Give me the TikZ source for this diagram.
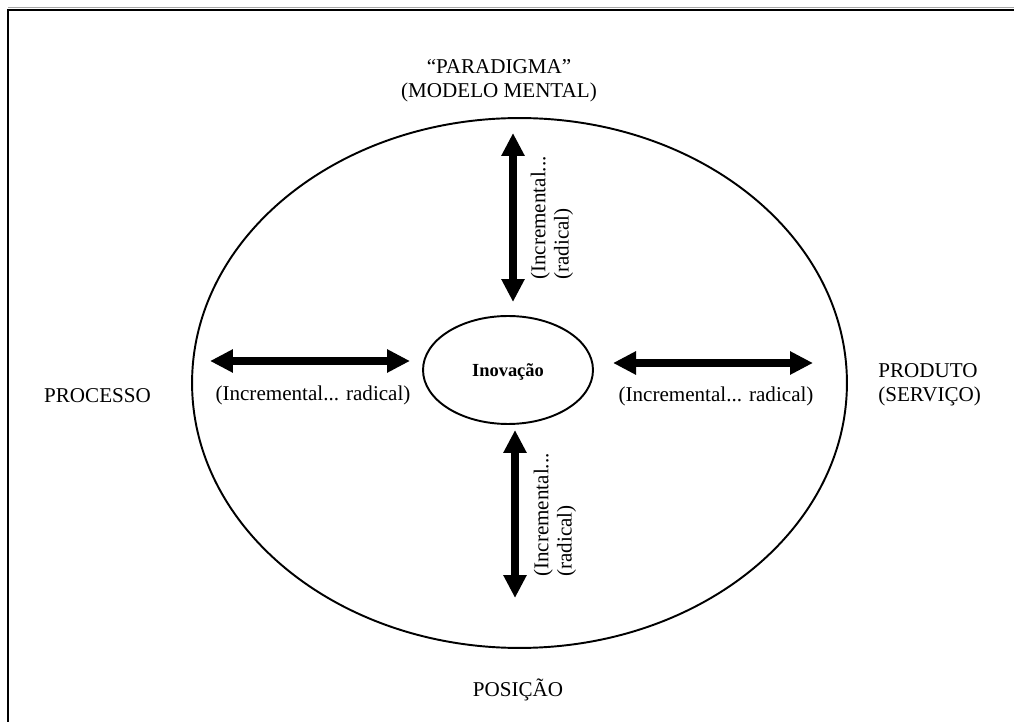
\documentclass[tikz,border=0pt]{standalone}
\usepackage{fontspec}
\setmainfont{Liberation Serif}
\usetikzlibrary{arrows.meta,shapes.geometric}
\begin{document}
\begin{tikzpicture}[x=0.02cm,y=-0.02cm,
  ring/.style={draw,ellipse,line width=1.1pt,inner sep=0pt},
  dimarrow/.style={line width=4pt,
    {Triangle[width=0.44cm,length=0.46cm]}-{Triangle[width=0.44cm,length=0.46cm]}},
  lbl/.style={font=\fontsize{12}{13.6}\selectfont,inner sep=0pt},
  vlbl/.style={lbl,rotate=90,align=left,font=\fontsize{12}{13.2}\selectfont}]
\useasboundingbox (0,0) rectangle (1014,722);

% frame (left and top rules)
\coordinate (fbl) at (8,722);
\coordinate (ftl) at (8,10);
\coordinate (ftr) at (1014,10);
\coordinate (gl) at (8,7.5);
\coordinate (gr) at (1014,7.5);
\draw[black!35,line width=0.6pt] (gl) -- (gr);
\draw[line width=1.2pt] (fbl) -- (ftl) -- (ftr);

% ellipses
\node[ring,minimum width=13.1cm,minimum height=10.6cm] (outer) at (519.5,383) {};
\node[ring,minimum width=3.4cm,minimum height=2.16cm] (core) at (508,370) {};
\node[font=\fontsize{10.5}{12}\selectfont\bfseries,inner sep=0pt] (inov) at (508,372) {Inovação};

% outer labels
\node[lbl,align=center] (parad) at (499,81) {“PARADIGMA”\\(MODELO MENTAL)};
\node[lbl] (proc) at (97.5,396) {PROCESSO};
\node[lbl,align=left,anchor=west] (prod) at (878,385) {PRODUTO\\(SERVIÇO)};
\node[lbl] (posic) at (518,690) {POSIÇÃO};

% double arrows
\coordinate (tA) at (513,133);
\coordinate (tB) at (513,302);
\coordinate (bA) at (515,430);
\coordinate (bB) at (515,598);
\coordinate (lA) at (210,361);
\coordinate (lB) at (410,361);
\coordinate (rA) at (613,363);
\coordinate (rB) at (813,363);
\draw[dimarrow] (tA) -- (tB);
\draw[dimarrow] (bA) -- (bB);
\draw[dimarrow] (lA) -- (lB);
\draw[dimarrow] (rA) -- (rB);

% arrow captions
\node[lbl] (lcap) at (313,395) {(Incremental... radical)};
\node[lbl] (rcap) at (716,396) {(Incremental... radical)};
\node[vlbl] (tcap) at (552,218) {(Incremental...\\(radical)};
\node[vlbl] (bcap) at (555,515) {(Incremental...\\(radical)};
\end{tikzpicture}
\end{document}
